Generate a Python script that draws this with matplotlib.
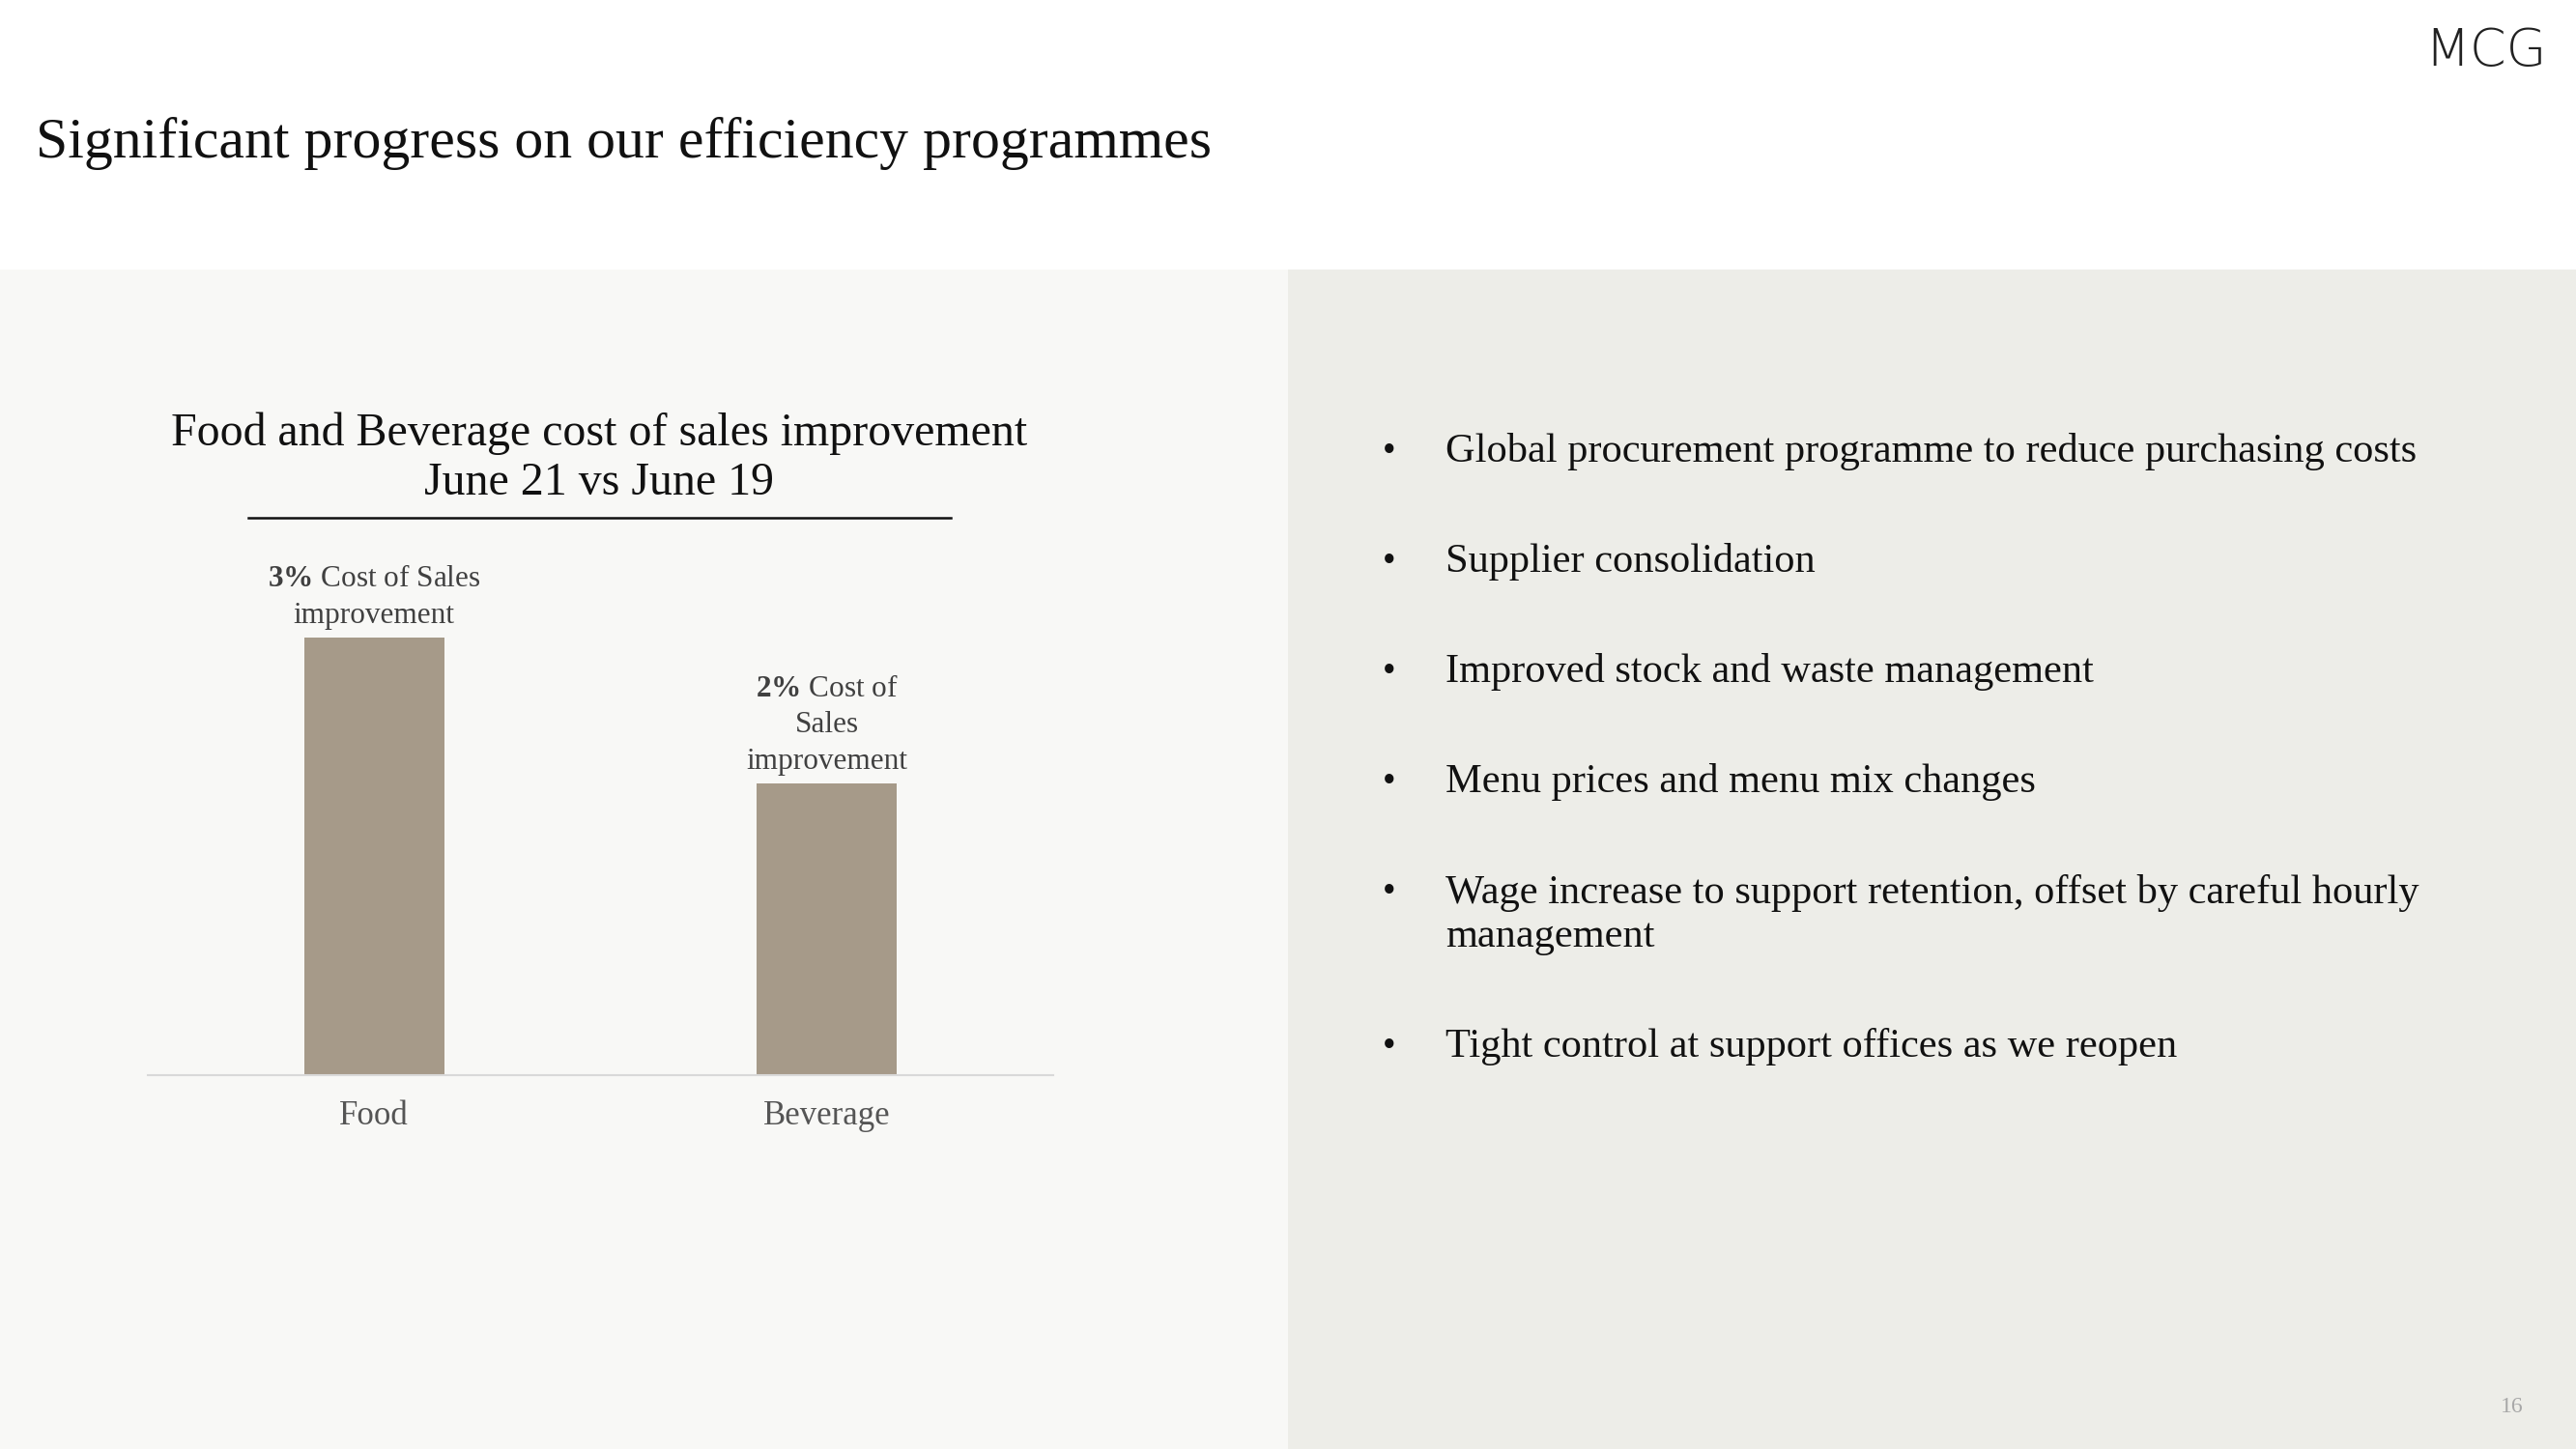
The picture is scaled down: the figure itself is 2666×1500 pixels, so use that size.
import matplotlib
matplotlib.use("Agg")
import matplotlib.pyplot as plt
from matplotlib.patches import Rectangle
from matplotlib.lines import Line2D

# data
categories = ["Food", "Beverage"]
improvement = [3, 2]
bar_labels = [
    r"$\mathbf{3\%}$ Cost of Sales" + "\nimprovement",
    r"$\mathbf{2\%}$ Cost of" + "\nSales\nimprovement",
]
bullets = [
    "Global procurement programme to reduce purchasing costs",
    "Supplier consolidation",
    "Improved stock and waste management",
    "Menu prices and menu mix changes",
    "Wage increase to support retention, offset by careful hourly\nmanagement",
    "Tight control at support offices as we reopen",
]

plt.rcParams["font.family"] = ["Liberation Serif", "DejaVu Serif"]
plt.rcParams["mathtext.fontset"] = "custom"
plt.rcParams["mathtext.rm"] = "Liberation Serif"
plt.rcParams["mathtext.bf"] = "Liberation Serif:bold"

W, H = 2666, 1500
fig = plt.figure(figsize=(W / 100, H / 100), dpi=100, facecolor="white")

# background panels
fig.add_artist(Rectangle((0, 0), 1333 / W, 1 - 279 / H, transform=fig.transFigure,
                         facecolor="#F8F8F6", edgecolor="none", zorder=0))
fig.add_artist(Rectangle((1333 / W, 0), 1 - 1333 / W, 1 - 279 / H, transform=fig.transFigure,
                         facecolor="#EDEDE8", edgecolor="none", zorder=0))

# headline + logo
fig.text(37 / W, 1 - 149 / H, "Significant progress on our efficiency programmes",
         fontsize=43, color="#111111", va="center", ha="left")
fig.text(2636 / W, 1 - 53 / H, "MCG", family=["DejaVu Sans"], fontweight="light",
         fontsize=39, color="#222222", ha="right", va="center")

# chart title and underline
fig.text(620 / W, 1 - 474 / H, "Food and Beverage cost of sales improvement\nJune 21 vs June 19",
         fontsize=34.5, color="#111111", ha="center", va="center", linespacing=1.2)
fig.add_artist(Line2D([257 / W, 984 / W], [1 - 536 / H, 1 - 536 / H],
                      transform=fig.transFigure, color="#111111", lw=1.8))

# bar chart
ax = fig.add_axes([153 / W, 1 - 1113 / H, (1090 - 153) / W, (1113 - 509) / H])
ax.set_facecolor("none")
x = range(len(categories))
ax.bar(x, improvement, width=0.31, color="#A69A89")
ax.set_xlim(-0.5, 1.5)
ax.set_ylim(0, 4)
ax.set_yticks([])
ax.set_xticks(list(x))
ax.set_xticklabels(categories, fontsize=25, color="#555555")
ax.tick_params(axis="x", length=0, pad=19)
for s in ["top", "left", "right"]:
    ax.spines[s].set_visible(False)
ax.spines["bottom"].set_color("#D9D9D9")
ax.spines["bottom"].set_linewidth(1.5)

for xi, v, lab in zip(x, improvement, bar_labels):
    ax.annotate(lab, xy=(xi, v), xytext=(0, 6), textcoords="offset points",
                ha="center", va="bottom", fontsize=22.5, color="#404040",
                linespacing=1.38)

# bullets (baseline alignment of multi-line text follows the last line)
fs = 30.5
em = fs * 100 / 72
y = 464
line_h = 46
gap = 68
for item in bullets:
    n = item.count("\n") + 1
    fig.text(1438 / W, 1 - (y + 0.34 * em) / H, "•", fontsize=28, color="#111111",
             ha="center", va="baseline")
    fig.text(1496 / W, 1 - (y + (n - 1) * line_h + 0.34 * em) / H, item,
             fontsize=fs, color="#111111", ha="left", va="baseline", linespacing=1.25)
    y += n * line_h + gap

# page number
fig.text(2600 / W, 1 - 1456 / H, "16", fontsize=17, color="#A8A8A8", ha="center", va="center")

fig.savefig("out.png", dpi=100, facecolor=fig.get_facecolor())
